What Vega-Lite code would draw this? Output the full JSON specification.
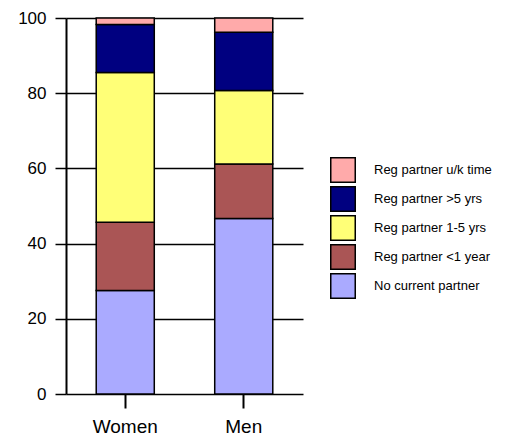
{
  "$schema": "https://vega.github.io/schema/vega-lite/v6.json",
  "autosize": "none",
  "width": 237,
  "height": 376,
  "padding": {"left": 66, "top": 18, "right": 221, "bottom": 43},
  "background": "white",
  "data": {"values": [
    {"sex": "Women", "status": "No current partner", "k": 1, "pct": 27.5},
    {"sex": "Women", "status": "Reg partner <1 year", "k": 2, "pct": 18.2},
    {"sex": "Women", "status": "Reg partner 1-5 yrs", "k": 3, "pct": 39.8},
    {"sex": "Women", "status": "Reg partner >5 yrs", "k": 4, "pct": 12.8},
    {"sex": "Women", "status": "Reg partner u/k time", "k": 5, "pct": 1.7},
    {"sex": "Men", "status": "No current partner", "k": 1, "pct": 46.7},
    {"sex": "Men", "status": "Reg partner <1 year", "k": 2, "pct": 14.5},
    {"sex": "Men", "status": "Reg partner 1-5 yrs", "k": 3, "pct": 19.5},
    {"sex": "Men", "status": "Reg partner >5 yrs", "k": 4, "pct": 15.5},
    {"sex": "Men", "status": "Reg partner u/k time", "k": 5, "pct": 3.8}
  ]},
  "mark": {"type": "bar", "stroke": "black", "strokeWidth": 1.5},
  "encoding": {
    "x": {
      "field": "sex", "type": "nominal", "sort": ["Women", "Men"],
      "scale": {"paddingInner": 0.51},
      "axis": {
        "title": null, "labelAngle": 0, "domain": false,
        "tickColor": "black", "tickWidth": 2, "tickSize": 14,
        "labelFont": "Liberation Sans", "labelFontSize": 19, "labelColor": "black",
        "labelPadding": 9
      }
    },
    "y": {
      "field": "pct", "type": "quantitative", "stack": "zero",
      "scale": {"domain": [0, 100], "nice": false},
      "axis": {
        "title": null, "values": [0, 20, 40, 60, 80, 100],
        "grid": true, "gridColor": "black", "gridOpacity": 1, "gridWidth": 1.5,
        "domainColor": "black", "domainWidth": 2,
        "tickColor": "black", "tickWidth": 1.5, "tickSize": 11,
        "labelFont": "Liberation Sans", "labelFontSize": 17, "labelColor": "black",
        "labelPadding": 9
      }
    },
    "order": {"field": "k", "type": "quantitative", "sort": "ascending"},
    "color": {
      "field": "status", "type": "nominal",
      "scale": {
        "domain": ["Reg partner u/k time", "Reg partner >5 yrs", "Reg partner 1-5 yrs", "Reg partner <1 year", "No current partner"],
        "range": ["#ffaaaa", "#000080", "#ffff77", "#aa5555", "#aaaaff"]
      },
      "legend": {
        "title": null, "orient": "none", "legendX": 264, "legendY": 139,
        "symbolType": "square", "symbolSize": 600, "symbolStrokeColor": "black",
        "symbolStrokeWidth": 1.5, "symbolOpacity": 1,
        "rowPadding": -3.3, "labelOffset": 18,
        "labelFont": "Liberation Sans", "labelFontSize": 13, "labelColor": "black"
      }
    }
  },
  "config": {"view": {"stroke": null}}
}
